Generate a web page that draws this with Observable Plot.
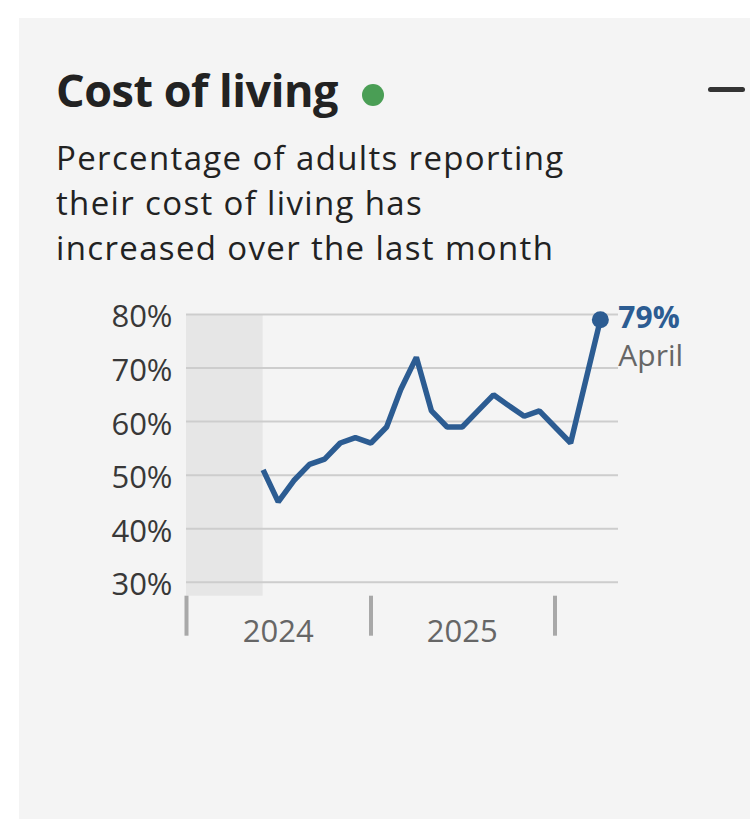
<!DOCTYPE html>
<html>
<head>
<meta charset="utf-8">
<script src="https://cdn.jsdelivr.net/npm/d3@7"></script>
<script src="https://cdn.jsdelivr.net/npm/@observablehq/plot@0.6"></script>
<style>
  html, body { margin: 0; padding: 0; background: #ffffff; }
  body { width: 750px; height: 819px; position: relative; overflow: hidden; font-family: "Open Sans", sans-serif; }
  #panel { position: absolute; left: 19px; top: 18px; width: 731px; height: 801px; background: #f4f4f4; }
  #title { position: absolute; left: 56px; top: 67px; font-size: 45px; line-height: 46px; font-weight: 700; letter-spacing: -0.5px; color: #222; white-space: nowrap; }
  #status { position: absolute; left: 362px; top: 84px; width: 22px; height: 22px; border-radius: 50%; background: #4a9e55; }
  #dash { position: absolute; left: 708px; top: 87px; width: 37px; height: 5px; border-radius: 3px; background: #333; }
  #subtitle { position: absolute; left: 56px; top: 135px; font-size: 33px; line-height: 45px; letter-spacing: 1.35px; color: #222; white-space: nowrap; }
  #chart { position: absolute; left: 0; top: 280px; }
</style>
</head>
<body>
<div id="panel"></div>
<div id="title">Cost of living</div>
<div id="status"></div>
<div id="dash"></div>
<div id="subtitle">Percentage of adults reporting<br>their cost of living has<br>increased over the last month</div>
<div id="chart"></div>
<script>
// Data
const months = ["2024-06-01","2024-07-01","2024-08-01","2024-09-01","2024-10-01","2024-11-01","2024-12-01",
                "2025-01-01","2025-02-01","2025-03-01","2025-04-01","2025-05-01","2025-06-01","2025-07-01",
                "2025-08-01","2025-09-01","2025-10-01","2025-11-01","2025-12-01","2026-01-01","2026-02-01",
                "2026-04-01"];
const values = [51,45,49,52,53,56,57,56,59,66,72,62,59,59,62,65,63,61,62,59,56,79];
const yTicks = [30,40,50,60,70,80];
const yearStarts = ["2024-01-01","2025-01-01","2026-01-01"];
const yearMids = ["2024-07-01","2025-07-01"];
const shaded = [{start: "2024-01-01", end: "2024-06-01"}];
const latestLabel = "April";
const xDomain = ["2024-01-01","2026-05-07"];
const yDomain = [27.4, 80];

const parse = s => new Date(s + "T00:00:00Z");
const data = months.map((m, i) => ({date: parse(m), value: values[i]}));
const last = [data[data.length - 1]];
const band = shaded.map(d => ({start: parse(d.start), end: parse(d.end)}));

const blue = "#2c5c92";

const chart = Plot.plot({
  width: 750,
  height: 380,
  marginLeft: 186,
  marginRight: 132,
  marginTop: 34,
  marginBottom: 64.3,
  style: {background: "none", fontFamily: "Open Sans", fontSize: "31px", overflow: "visible"},
  x: {type: "utc", domain: xDomain.map(parse), label: null},
  y: {domain: yDomain, label: null},
  marks: [
    Plot.rect(band, {x1: "start", x2: "end", y1: () => yDomain[0], y2: () => yDomain[1], fill: "#e6e6e6"}),
    Plot.ruleY(yTicks, {stroke: "#cdcdcd", strokeWidth: 2}),
    Plot.line(data, {x: "date", y: "value", stroke: blue, strokeWidth: 5.5, strokeLinejoin: "miter", strokeLinecap: "butt"}),
    Plot.dot(last, {x: "date", y: "value", r: 8.5, fill: blue}),
    Plot.text(last, {x: "date", y: "value", text: d => d.value + "%", textAnchor: "start", lineAnchor: "bottom", dx: 18, dy: 8.5, fill: blue, fontWeight: 700, fontSize: 30}),
    Plot.text(last, {x: "date", y: "value", text: () => latestLabel, textAnchor: "start", lineAnchor: "bottom", dx: 18, dy: 46, fill: "#666", fontSize: 30}),
    Plot.axisY(yTicks, {tickSize: 0, tickPadding: 14, tickFormat: d => d + "%", fill: "#383838", dy: 3, label: null}),
    Plot.axisX(yearStarts.map(parse), {tickSize: 40, tickFormat: () => "", stroke: "#a8a8a8", strokeWidth: 4, label: null}),
    Plot.axisX(yearMids.map(parse), {tickSize: 0, tickPadding: 24, tickFormat: d3.utcFormat("%Y"), fill: "#666", label: null})
  ]
});
document.getElementById("chart").appendChild(chart);
</script>
</body>
</html>
